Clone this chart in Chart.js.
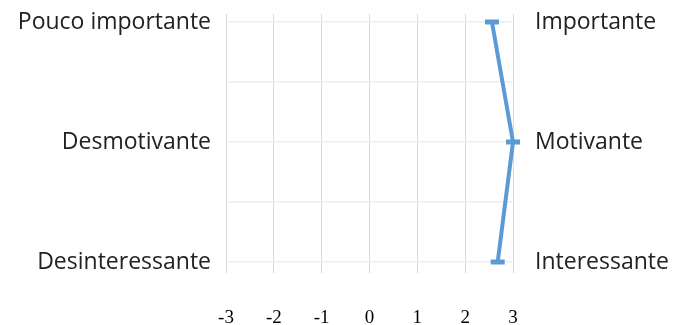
<!DOCTYPE html>
<html>
<head>
<meta charset="utf-8">
<script src="https://cdn.jsdelivr.net/npm/chart.js@4/dist/chart.umd.min.js"></script>
<style>
  html, body { margin: 0; padding: 0; background: #ffffff; }
  #wrap { width: 674px; height: 325px; position: relative; }
</style>
</head>
<body>
<div id="wrap"><canvas id="c"></canvas></div>
<script>
// Semantic differential: negative pole on the left, positive pole on the right
const leftLabels = ['Pouco importante', 'Desmotivante', 'Desinteressante'];
const rightLabels = ['Importante', 'Motivante', 'Interessante'];
const scores = [2.56, 3.0, 2.68];
const xTicks = [-3, -2, -1, 0, 1, 2, 3];

// each item sits on every second row line of the grid (0, 2, 4)
const rowOf = i => i * 2;
const rowTicks = [0, 1, 2, 3, 4];

const points = scores.map((v, i) => ({ x: v, y: rowOf(i) }));

function labelAt(list, value) {
  const i = value / 2;
  return Number.isInteger(i) && list[i] !== undefined ? list[i] : '';
}

// fixed axis sizes, no extra room for label overhang
function fixSize(prop, size) {
  return s => {
    s[prop] = size;
    s.paddingTop = 0; s.paddingBottom = 0;
    s.paddingLeft = 0; s.paddingRight = 0;
  };
}

const textColor = '#222222';
const labelFont = { family: 'Open Sans', size: 23 };

new Chart(document.getElementById('c'), {
  type: 'scatter',
  data: {
    datasets: [{
      data: points,
      showLine: true,
      borderColor: '#5b9bd5',
      backgroundColor: '#5b9bd5',
      borderWidth: 4,
      pointStyle: 'line',
      pointRadius: 7,
      pointHoverRadius: 7,
      pointBorderWidth: 5,
      pointBorderColor: '#5b9bd5',
      clip: false,
      yAxisID: 'y'
    }]
  },
  options: {
    responsive: true,
    maintainAspectRatio: false,
    animation: false,
    events: [],
    layout: { padding: { top: 14, left: 0, right: 0, bottom: 0 } },
    plugins: { legend: { display: false }, tooltip: { enabled: false } },
    scales: {
      x: {
        type: 'linear',
        min: -3,
        max: 3,
        afterBuildTicks: s => { s.ticks = xTicks.map(v => ({ value: v })); },
        afterFit: fixSize('height', 52),
        border: { display: false },
        grid: { color: '#d9d9d9', lineWidth: 1, drawTicks: false },
        ticks: {
          padding: 34,
          color: '#000000',
          font: { family: 'Liberation Serif', size: 19 },
          callback: v => String(v)
        }
      },
      y: {
        type: 'linear',
        position: 'left',
        reverse: true,
        min: -8 / 60,
        max: 4 + 11 / 60,
        afterBuildTicks: s => { s.ticks = rowTicks.map(v => ({ value: v })); },
        afterFit: fixSize('width', 226),
        border: { display: false },
        grid: { color: '#eeeeee', lineWidth: 1.5, drawTicks: false },
        ticks: {
          padding: 15,
          color: textColor,
          font: labelFont,
          autoSkip: false,
          callback: v => labelAt(leftLabels, v)
        }
      },
      y2: {
        type: 'linear',
        position: 'right',
        reverse: true,
        min: -8 / 60,
        max: 4 + 11 / 60,
        afterBuildTicks: s => { s.ticks = rowTicks.map(v => ({ value: v })); },
        afterFit: fixSize('width', 161),
        border: { display: false },
        grid: { display: false, drawTicks: false },
        ticks: {
          padding: 22,
          color: textColor,
          font: labelFont,
          autoSkip: false,
          callback: v => labelAt(rightLabels, v)
        }
      }
    }
  }
});
</script>
</body>
</html>
